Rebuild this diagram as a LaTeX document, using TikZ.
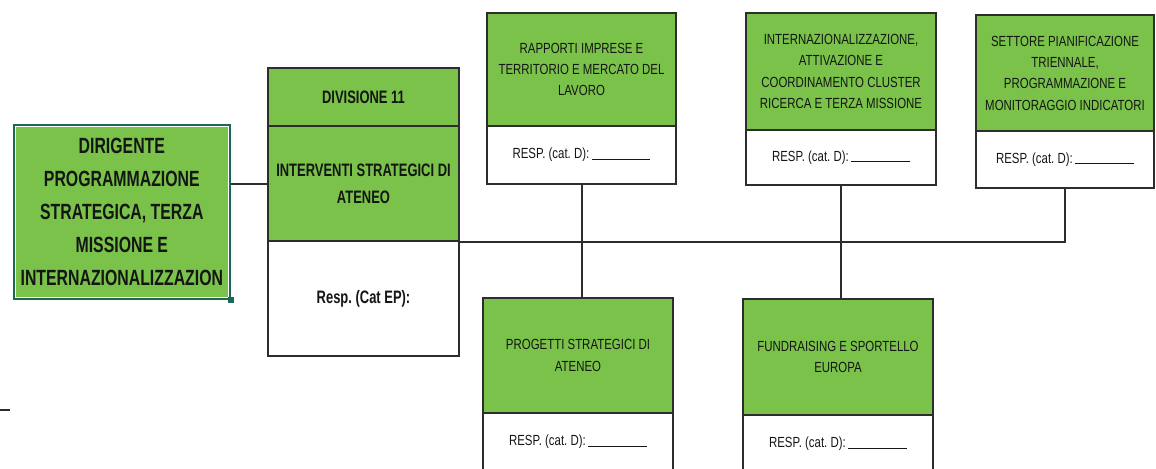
\documentclass[tikz,border=0pt]{standalone}
\usepackage{fontspec}
\newfontfamily\nar[FakeStretch=0.78]{Liberation Sans}
\newfontfamily\narb[FakeStretch=0.72]{Liberation Sans}
\definecolor{boxgreen}{RGB}{122,194,74}
\definecolor{edge}{RGB}{45,45,45}
\definecolor{teal}{RGB}{28,104,84}
\definecolor{ink}{RGB}{20,22,20}
\frenchspacing
\tikzset{
  gbox/.style={draw=edge, line width=1.5pt, fill=boxgreen, text=ink, align=center, anchor=north west, inner sep=0pt},
  wbox/.style={draw=edge, line width=1.5pt, fill=white, text=ink, align=center, anchor=north west, inner sep=0pt},
  small/.style={font=\nar\frenchspacing\fontsize{11}{16}\selectfont},
  mid/.style={font=\narb\bfseries\frenchspacing\fontsize{13.5}{20}\selectfont},
  conn/.style={draw=edge, line width=1.5pt}
}
\newcommand{\respline}{RESP. (cat. D):\,\rule[-0.6pt]{44pt}{0.7pt}}
\begin{document}
\begin{tikzpicture}[x=0.75pt,y=-0.75pt]
\useasboundingbox (0,0) rectangle (1156,468);
% Dirigente
\node[gbox, draw=teal, line width=2pt, minimum width=161.25pt, minimum height=129.75pt,
  font=\narb\bfseries\frenchspacing\fontsize{16.5}{24.75}\selectfont] (dir) at (13,124)
  {DIRIGENTE\\PROGRAMMAZIONE\\STRATEGICA, TERZA\\MISSIONE E\\INTERNAZIONALIZZAZION};
\draw[white, line width=0.7pt] ([shift={(2.5,-2.5)}]dir.south west) rectangle ([shift={(-2.5,2.5)}]dir.north east);
\fill[teal] ([shift={(-3,-3)}]dir.south east) rectangle ([shift={(3,3)}]dir.south east);
% Divisione 11
\node[gbox, mid, minimum width=143.25pt, minimum height=43.5pt] (div1) at (267,67) {DIVISIONE 11};
\node[gbox, mid, minimum width=143.25pt, minimum height=86.25pt] (div2) at (267,125) {INTERVENTI STRATEGICI DI\\ATENEO};
\node[wbox, mid, minimum width=143.25pt, minimum height=86.25pt] (div3) at (267,240) {Resp. (Cat EP):};
% Rapporti
\node[gbox, small, minimum width=141.75pt, minimum height=84.75pt] (rap1) at (486,12) {RAPPORTI IMPRESE E\\TERRITORIO E MERCATO DEL\\LAVORO};
\node[wbox, small, minimum width=141.75pt, minimum height=43.5pt] (rap2) at (486,125) {\respline};
% Internazionalizzazione
\node[gbox, small, minimum width=142.5pt, minimum height=87.75pt] (int1) at (745,12) {INTERNAZIONALIZZAZIONE,\\ATTIVAZIONE E\\COORDINAMENTO CLUSTER\\RICERCA E TERZA MISSIONE};
\node[wbox, small, minimum width=142.5pt, minimum height=41.25pt] (int2) at (745,129) {\respline};
% Settore
\node[gbox, small, minimum width=133.5pt, minimum height=87pt] (set1) at (975,14) {SETTORE PIANIFICAZIONE\\TRIENNALE,\\PROGRAMMAZIONE E\\MONITORAGGIO INDICATORI};
\node[wbox, small, minimum width=133.5pt, minimum height=42.75pt] (set2) at (975,130) {\respline};
% Progetti
\node[gbox, small, minimum width=142.5pt, minimum height=86.25pt] (prog1) at (482,297) {PROGETTI STRATEGICI DI\\ATENEO};
\node[wbox, small, minimum width=142.5pt, minimum height=45pt] (prog2) at (482,412) {\raisebox{4pt}{\respline}};
% Fundraising
\node[gbox, small, minimum width=142.5pt, minimum height=87pt] (fund1) at (742,298) {FUNDRAISING E SPORTELLO\\EUROPA};
\node[wbox, small, minimum width=142.5pt, minimum height=45pt] (fund2) at (742,414) {\raisebox{4pt}{\respline}};
% connectors
\draw[conn] (dir.east |- div2.west) -- (div2.west);
\draw[conn] (div2.south east) -- (set2.south |- div2.south east) -- (set2.south);
\draw[conn] (rap2.south) -- (rap2.south |- prog1.north);
\draw[conn] (int2.south) -- (int2.south |- fund1.north);
% stray dash at left
\draw[edge, line width=1.2pt] (0,410) -- (10,410);
\end{tikzpicture}
\end{document}
